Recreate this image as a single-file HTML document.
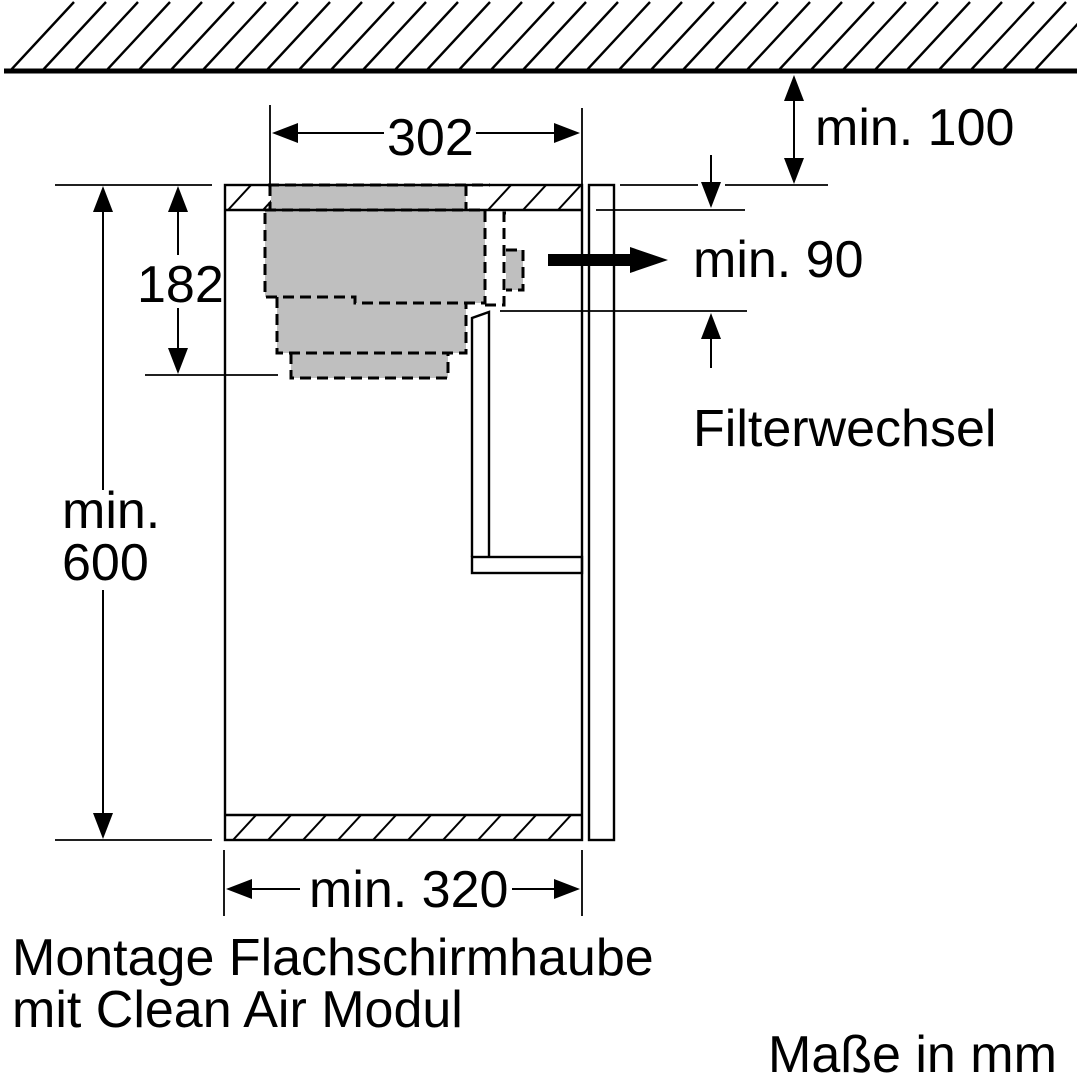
<!DOCTYPE html>
<html><head><meta charset="utf-8"><style>
html,body{margin:0;padding:0;background:#fff;}
svg{display:block;}
text{font-family:"Liberation Sans",Arial,sans-serif;fill:#000;}
</style></head><body>
<svg width="1080" height="1079" viewBox="0 0 1080 1079" xmlns="http://www.w3.org/2000/svg">
<defs>
<clipPath id="ceil"><rect x="3" y="0" width="1074" height="71"/></clipPath>
<clipPath id="topb"><rect x="225" y="185" width="357" height="25"/></clipPath>
<clipPath id="botb"><rect x="225" y="815" width="357" height="25"/></clipPath>
</defs>
<!-- ceiling -->
<g clip-path="url(#ceil)" stroke="#000" stroke-width="2.4">
<path d="M10 71 L74 2 M42 71 L106 2 M74 71 L138 2 M106 71 L170 2 M138 71 L202 2 M170 71 L234 2 M202 71 L266 2 M234 71 L298 2 M266 71 L330 2 M298 71 L362 2 M330 71 L394 2 M362 71 L426 2 M394 71 L458 2 M426 71 L490 2 M458 71 L522 2 M490 71 L554 2 M522 71 L586 2 M554 71 L618 2 M586 71 L650 2 M618 71 L682 2 M650 71 L714 2 M682 71 L746 2 M714 71 L778 2 M746 71 L810 2 M778 71 L842 2 M810 71 L874 2 M842 71 L906 2 M874 71 L938 2 M906 71 L970 2 M938 71 L1002 2 M970 71 L1034 2 M1002 71 L1066 2 M1034 71 L1098 2"/>
</g>
<line x1="4" y1="71" x2="1077" y2="71" stroke="#000" stroke-width="5"/>
<!-- board hatches -->
<g clip-path="url(#topb)" stroke="#000" stroke-width="2">
<path d="M228 210 L252 184 M263 210 L287 184 M488 210 L512 184 M523 210 L547 184 M558 210 L582 184 M593 210 L617 184"/>
</g>
<g clip-path="url(#botb)" stroke="#000" stroke-width="2">
<path d="M233 840 L257 814 M268 840 L292 814 M303 840 L327 814 M338 840 L362 814 M373 840 L397 814 M408 840 L432 814 M443 840 L467 814 M478 840 L502 814 M513 840 L537 814 M548 840 L572 814 M583 840 L607 814"/>
</g>
<!-- gray modules -->
<g fill="#bfbfbf">
<rect x="271" y="186" width="195" height="24"/>
<path d="M265 210 H485 V303 H355 V297 H265 Z"/>
<rect x="277" y="297" width="189" height="56"/>
<rect x="291" y="353" width="157" height="25"/>
<rect x="506" y="250" width="17" height="40"/>
</g>
<!-- cabinet -->
<g stroke="#000" stroke-width="2.4" fill="none">
<rect x="225" y="185" width="357" height="655"/>
<line x1="225" y1="210" x2="582" y2="210"/>
<line x1="225" y1="815" x2="582" y2="815"/>
<rect x="589" y="185" width="25" height="655"/>
<path d="M472 557 V318 L489 312 V557"/>
<rect x="472" y="557" width="110" height="16"/>
</g>
<!-- dashed outlines -->
<g stroke="#000" stroke-width="3" fill="none" stroke-dasharray="11,6">
<path d="M268 185 H490"/>
<path d="M270 185 V210 M466 185 V210"/>
<path d="M265 210 H485 V303 H355 V297 H265 Z"/>
<path d="M277 297 V353 H466 V303"/>
<path d="M291 353 V378 H448 V353"/>
<path d="M485 305 H504 V213 H512"/>
<path d="M506 250 H523 V290 H506"/>
</g>
<!-- extension lines -->
<g stroke="#000" stroke-width="1.8">
<line x1="55" y1="185" x2="212" y2="185"/>
<line x1="55" y1="840" x2="212" y2="840"/>
<line x1="145" y1="375" x2="278" y2="375"/>
<line x1="270" y1="105" x2="270" y2="185"/>
<line x1="582" y1="108" x2="582" y2="185"/>
<line x1="224" y1="850" x2="224" y2="916"/>
<line x1="582" y1="850" x2="582" y2="916"/>
<line x1="620" y1="185" x2="698" y2="185"/>
<line x1="725" y1="185" x2="828" y2="185"/>
<line x1="596" y1="210" x2="745" y2="210"/>
<line x1="500" y1="311" x2="747" y2="311"/>
</g>
<!-- dimension lines -->
<g stroke="#000" stroke-width="2">
<line x1="103" y1="200" x2="103" y2="490"/>
<line x1="103" y1="590" x2="103" y2="825"/>
<line x1="178" y1="200" x2="178" y2="255"/>
<line x1="178" y1="308" x2="178" y2="360"/>
<line x1="285" y1="133" x2="384" y2="133"/>
<line x1="476" y1="133" x2="565" y2="133"/>
<line x1="240" y1="889" x2="300" y2="889"/>
<line x1="512" y1="889" x2="565" y2="889"/>
<line x1="794" y1="90" x2="794" y2="168"/>
<line x1="711" y1="155" x2="711" y2="190"/>
<line x1="711" y1="330" x2="711" y2="368"/>
</g>
<g fill="#000">
<path d="M103 186 L93 212 L113 212 Z"/>
<path d="M103 839 L93 813 L113 813 Z"/>
<path d="M178 186 L168 212 L188 212 Z"/>
<path d="M178 374 L168 348 L188 348 Z"/>
<path d="M272 133 L298 123 L298 143 Z"/>
<path d="M580 133 L554 123 L554 143 Z"/>
<path d="M226 889 L252 879 L252 899 Z"/>
<path d="M580 889 L554 879 L554 899 Z"/>
<path d="M794 75 L784 101 L804 101 Z"/>
<path d="M794 184 L784 158 L804 158 Z"/>
<path d="M711 208 L701 182 L721 182 Z"/>
<path d="M711 313 L701 339 L721 339 Z"/>
<rect x="548" y="254" width="84" height="12"/>
<path d="M668 260 L630 247 L630 273 Z"/>
</g>
<!-- labels -->
<g font-size="52">
<text x="387" y="155">302</text>
<text x="815" y="145">min. 100</text>
<text x="693" y="277">min. 90</text>
<text x="693" y="446">Filterwechsel</text>
<text x="137" y="302">182</text>
<text x="62" y="528">min.</text>
<text x="62" y="580">600</text>
<text x="309" y="907">min. 320</text>
<text x="12" y="975">Montage Flachschirmhaube</text>
<text x="12" y="1027">mit Clean Air Modul</text>
<text x="768" y="1072">Maße in mm</text>
</g>
</svg>
</body></html>
